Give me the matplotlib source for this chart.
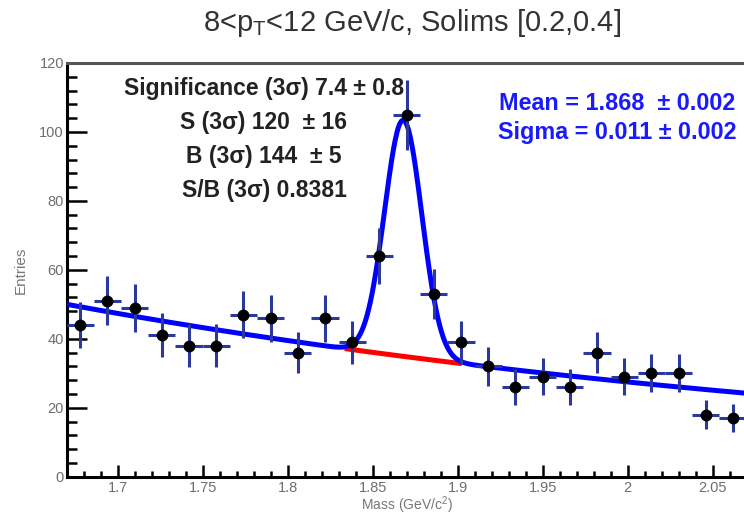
import numpy as np
import matplotlib
matplotlib.use("Agg")
import matplotlib.pyplot as plt
from matplotlib.ticker import MultipleLocator

plt.rcParams['font.family'] = ['Liberation Sans', 'DejaVu Sans']
plt.rcParams['mathtext.fontset'] = 'custom'
plt.rcParams['mathtext.rm'] = 'Liberation Sans'

# histogram bins (mass in GeV/c^2) and counts
bin_centers = [1.678, 1.694, 1.710, 1.726, 1.742, 1.758, 1.774, 1.790, 1.806,
               1.822, 1.838, 1.854, 1.870, 1.886, 1.902, 1.918, 1.934, 1.950,
               1.966, 1.982, 1.998, 2.014, 2.030, 2.046, 2.062]
counts = [44, 51, 49, 41, 38, 38, 47, 46, 36, 46, 39, 64, 105, 53, 39, 32,
          26, 29, 26, 36, 29, 30, 30, 18, 17]
count_err = [6.6, 7.1, 7.0, 6.4, 6.2, 6.2, 6.9, 6.8, 6.0, 6.8, 6.2, 8.0, 10.2,
             7.3, 6.2, 5.7, 5.1, 5.4, 5.1, 6.0, 5.4, 5.5, 5.5, 4.2, 4.1]
bin_half = 0.008

# fit parameters (gaussian signal + exponential background)
sig_mean = 1.868
sig_sigma = 0.011
sig_amp = 68.5
bkg_norm = 50.0
bkg_slope = 1.815
x_lo, x_hi = 1.67, 2.07

def bkg(x):
    return bkg_norm * np.exp(-bkg_slope * (x - x_lo))

def total(x):
    return bkg(x) + sig_amp * np.exp(-0.5 * ((x - sig_mean) / sig_sigma) ** 2)

fig = plt.figure(figsize=(7.44, 5.15), dpi=100)
ax = fig.add_axes([0.0896, 0.0744, 0.914, 0.8033])

xx = np.linspace(x_lo, x_hi, 800)
ax.plot(xx, total(xx), color='#0000ff', lw=3.6, zorder=3, solid_capstyle='butt')
xr = np.linspace(sig_mean - 3 * sig_sigma, sig_mean + 3 * sig_sigma, 100)
ax.plot(xr, bkg(xr), color='#ff0000', lw=3.6, zorder=2)

ax.errorbar(bin_centers, counts, yerr=count_err, xerr=bin_half, fmt='o',
            color='black', ms=7.5, ecolor='#2b389c', elinewidth=2.2,
            capsize=0, zorder=4)

ax.set_xlim(x_lo, x_hi)
ax.set_ylim(0, 120)
ax.xaxis.set_major_locator(MultipleLocator(0.05))
ax.xaxis.set_minor_locator(MultipleLocator(0.01))
ax.yaxis.set_major_locator(MultipleLocator(20))
ax.yaxis.set_minor_locator(MultipleLocator(4))
ax.set_xticks([1.7, 1.75, 1.8, 1.85, 1.9, 1.95, 2.0, 2.05])
ax.set_xticklabels(['1.7', '1.75', '1.8', '1.85', '1.9', '1.95', '2', '2.05'])

ax.tick_params(axis='both', which='both', direction='in', colors='black',
               labelcolor='#6e6e6e', labelsize=10.5, width=1.8)
ax.tick_params(axis='x', which='major', length=8.6, pad=3)
ax.tick_params(axis='x', which='minor', length=4.3)
ax.tick_params(axis='y', which='major', length=14.4, pad=2)
ax.tick_params(axis='y', which='minor', length=7.2)

for side in ['left', 'bottom']:
    ax.spines[side].set_linewidth(2.2)
    ax.spines[side].set_color('black')
ax.spines['top'].set_linewidth(2.2)
ax.spines['top'].set_color('#555555')
ax.spines['right'].set_visible(False)

ax.set_xlabel('Mass (GeV/c$^2$)', fontsize=10, color='#777777', labelpad=0)
ax.set_ylabel('Entries', fontsize=11, color='#777777', labelpad=8)

fig.text(0.554, 0.955, r'8<p$_\mathregular{T}$<12 GeV/c, Solims [0.2,0.4]',
         ha='center', va='center', fontsize=21, color='#333333')

left_lines = ['Significance (3σ) 7.4 ± 0.8', 'S (3σ) 120  ± 16',
              'B (3σ) 144  ± 5', 'S/B (3σ) 0.8381']
for i, s in enumerate(left_lines):
    fig.text(264 / 744, 1 - (88 + 34 * i) / 515, s, ha='center', va='center',
             fontsize=16.5, fontweight='bold', color='#222222')

right_lines = ['Mean = 1.868  ± 0.002', 'Sigma = 0.011 ± 0.002']
for i, s in enumerate(right_lines):
    fig.text(617 / 744, 1 - (103 + 30 * i) / 515, s, ha='center', va='center',
             fontsize=16.8, fontweight='bold', color='#1a1aff')

fig.savefig('out.png', dpi=100)
